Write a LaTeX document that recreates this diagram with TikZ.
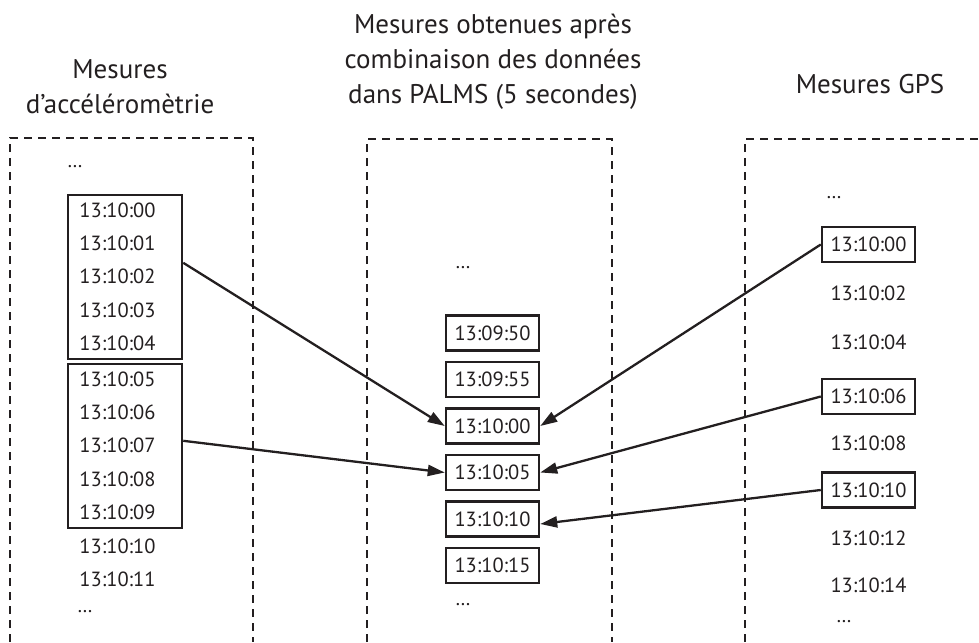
\documentclass[tikz,border=0pt]{standalone}
\usepackage{fontspec}
\setmainfont{PT Sans}
\usetikzlibrary{arrows.meta,positioning,fit}
\definecolor{ink}{RGB}{35,31,32}

\begin{document}
\begin{tikzpicture}[
    x=1pt, y=-1pt,
    node distance=19pt,
    color=ink,
    title/.style={align=center, font=\fontsize{27}{35}\selectfont},
    stamp/.style={inner sep=0pt, text height=14pt, text depth=0pt, font=\fontsize{20.5}{24}\selectfont},
    etc_node/.style={inner sep=0pt, font=\fontsize{20}{24}\selectfont},
    stamp_box/.style={stamp, draw, line width=2.5pt, minimum width=93pt, minimum height=35pt},
    group_box/.style={draw, line width=2.5pt, inner xsep=0pt, inner ysep=8pt, minimum width=114pt, xshift=7.5pt},
    frame/.style={dash pattern=on 8pt off 6pt, line width=2.2pt},
    link/.style={-{Triangle[length=17pt,width=11pt]}, line width=2.3pt}
]
\useasboundingbox (0,0) rectangle (979,642);

% --- TITLES ---
\node[title] (title_acc) at (120,87) {Mesures\\d’accéléromètrie};
\node[title] (title_palms) at (493,62) {Mesures obtenues après\\combinaison des données\\dans PALMS (5 secondes)};
\node[title] (title_gps) at (870,84) {Mesures GPS};

% --- FRAMES (open at the bottom) ---
\draw[frame] (10,642) -- (10,138) -- (253,138) -- (253,642);
\draw[frame] (367,642) -- (367,139) -- (612,139) -- (612,642);
\draw[frame] (745,642) -- (745,139) -- (979,139);

% --- ACCELEROMETRY (1 s) ---
\node[etc_node] (acc_top) at (75,167) {…};
\node[stamp] (acc_00) at (117.5,210) {13:10:00};
\node[stamp, below=of acc_00] (acc_01) {13:10:01};
\node[stamp, below=of acc_01] (acc_02) {13:10:02};
\node[stamp, below=of acc_02] (acc_03) {13:10:03};
\node[stamp, below=of acc_03] (acc_04) {13:10:04};
\node[stamp, below=21pt of acc_04] (acc_05) {13:10:05};
\node[stamp, below=of acc_05] (acc_06) {13:10:06};
\node[stamp, below=of acc_06] (acc_07) {13:10:07};
\node[stamp, below=of acc_07] (acc_08) {13:10:08};
\node[stamp, below=of acc_08] (acc_09) {13:10:09};
\node[stamp, below=of acc_09] (acc_10) {13:10:10};
\node[stamp, below=of acc_10] (acc_11) {13:10:11};
\node[etc_node] (acc_bot) at (85,612) {…};

\node[group_box, fit=(acc_00)(acc_04)] (acc_box_a) {};
\node[group_box, fit=(acc_05)(acc_09)] (acc_box_b) {};

% --- PALMS (5 s epochs) ---
\node[etc_node] (pal_top) at (463,268) {…};
\node[stamp_box] (pal_0950) at (492.5,333) {13:09:50};
\node[stamp_box, below=9pt of pal_0950] (pal_0955) {13:09:55};
\node[stamp_box, below=9pt of pal_0955] (pal_1000) {13:10:00};
\node[stamp_box, below=9pt of pal_1000] (pal_1005) {13:10:05};
\node[stamp_box, below=9pt of pal_1005] (pal_1010) {13:10:10};
\node[stamp_box, below=9pt of pal_1010] (pal_1015) {13:10:15};
\node[etc_node] (pal_bot) at (463,605) {…};

% --- GPS (2 s) ---
\node[etc_node] (gps_top) at (834,198) {…};
\node[stamp_box] (gps_00) at (868.5,244.5) {13:10:00};
\node[stamp] (gps_02) at (868.5,293) {13:10:02};
\node[stamp] (gps_04) at (868.5,342) {13:10:04};
\node[stamp_box] (gps_06) at (868.5,396.5) {13:10:06};
\node[stamp] (gps_08) at (868.5,443) {13:10:08};
\node[stamp_box] (gps_10) at (868.5,490) {13:10:10};
\node[stamp] (gps_12) at (868.5,538) {13:10:12};
\node[stamp] (gps_14) at (868.5,585) {13:10:14};
\node[etc_node] (gps_bot) at (844,622) {…};

% --- EDGES ---
\draw[link] ([yshift=14pt]acc_box_a.east) -- (pal_1000.west);
\draw[link] ([yshift=5pt]acc_box_b.east) -- (pal_1005.west);
\draw[link] (gps_00.west) -- (pal_1000.east);
\draw[link] (gps_06.west) -- (pal_1005.east);
\draw[link] (gps_10.west) -- ([yshift=-5pt]pal_1010.east);

\end{tikzpicture}
\end{document}
